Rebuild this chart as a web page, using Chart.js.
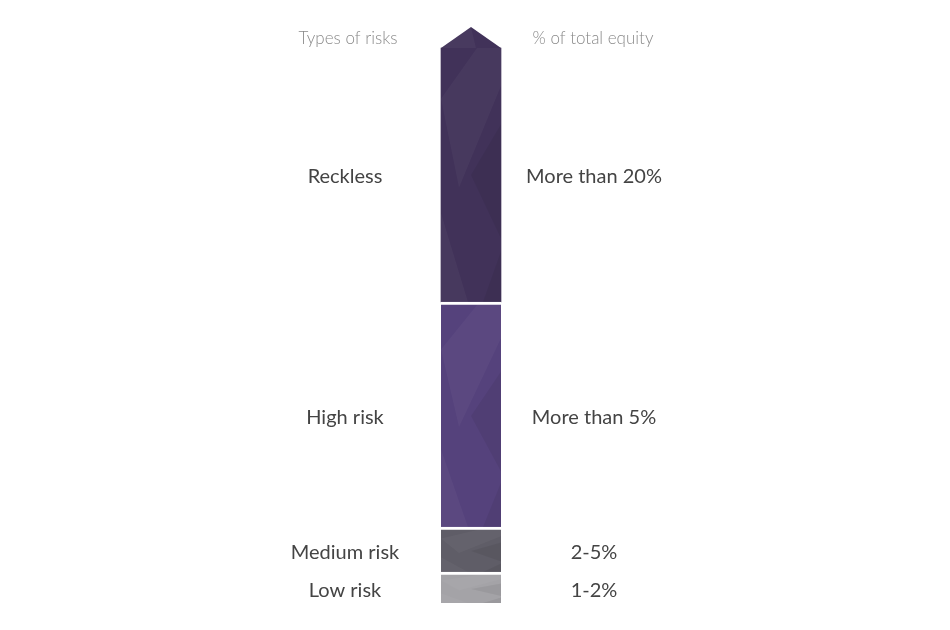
<!DOCTYPE html>
<html>
<head>
<meta charset="utf-8">
<script src="https://cdn.jsdelivr.net/npm/chart.js@4"></script>
<style>
  body { margin: 0; background: #fff; }
  #wrap { width: 950px; height: 630px; }
</style>
</head>
<body>
<div id="wrap"><canvas id="myChart" width="950" height="630"></canvas></div>
<script>
// bottom to top
var riskTypes = ['Low risk', 'Medium risk', 'High risk', 'Reckless'];
var equityLabels = ['1-2%', '2-5%', 'More than 5%', 'More than 20%'];
var segmentSizes = [31, 45, 225, 254];
var arrowSize = 21;
var colors = ['#a4a3a7', '#5f5d67', '#55427c', '#413259'];

var datasets = riskTypes.map(function (name, i) {
    return {
        label: name,
        data: [segmentSizes[i]],
        backgroundColor: colors[i],
        borderColor: '#ffffff',
        borderWidth: i < riskTypes.length - 1 ? { top: 3 } : 0,
        borderSkipped: false,
        barThickness: 60
    };
});

var total = segmentSizes.reduce(function (a, b) { return a + b; }, 0) + arrowSize;

var decor = {
    id: 'decor',
    afterDatasetsDraw: function (chart) {
        var c = chart.ctx;
        var n = chart.data.datasets.length;
        // faint triangular facets, in fractions of the segment box
        var facets = [
            [[0, 0.2], [0.6, 0.0], [1, 0.0], [1, 0.15], [0.3, 0.55]],
            [[0.5, 0.5], [1, 0.3], [1, 0.75]],
            [[0, 0.65], [0.45, 1], [0, 1]],
            [[0.7, 1], [1, 0.8], [1, 1]]
        ];
        chart.data.datasets.forEach(function (ds, i) {
            var bar = chart.getDatasetMeta(i).data[0];
            var left = bar.x - bar.width / 2, w = bar.width;
            var top = bar.y + (i < n - 1 ? 3 : 0), h = bar.base - top;
            c.save();
            c.beginPath();
            c.rect(left, top, w, h);
            c.clip();
            facets.forEach(function (f, k) {
                c.fillStyle = k % 2 ? 'rgba(0,0,0,0.06)' : 'rgba(255,255,255,0.035)';
                c.beginPath();
                f.forEach(function (p, j) {
                    var px = left + p[0] * w, py = top + p[1] * h;
                    if (j === 0) c.moveTo(px, py); else c.lineTo(px, py);
                });
                c.closePath();
                c.fill();
            });
            c.restore();

            // labels beside each segment
            var mid = (top + bar.base) / 2 + 2;
            c.save();
            c.fillStyle = '#444444';
            c.font = '20px Lato';
            c.textAlign = 'center';
            c.textBaseline = 'middle';
            c.fillText(riskTypes[i], bar.x - 126, mid);
            c.fillText(equityLabels[i], bar.x + 123, mid);
            c.restore();
        });

        // arrow head on top
        var topBar = chart.getDatasetMeta(n - 1).data[0];
        var tipY = chart.scales.y.getPixelForValue(total);
        c.save();
        c.fillStyle = colors[n - 1];
        c.beginPath();
        c.moveTo(topBar.x - topBar.width / 2, topBar.y);
        c.lineTo(topBar.x, tipY);
        c.lineTo(topBar.x + topBar.width / 2, topBar.y);
        c.closePath();
        c.fill();
        c.fillStyle = 'rgba(255,255,255,0.04)';
        c.beginPath();
        c.moveTo(topBar.x - topBar.width / 2, topBar.y);
        c.lineTo(topBar.x, tipY);
        c.lineTo(topBar.x + 5, topBar.y);
        c.closePath();
        c.fill();

        // headers
        var headY = (tipY + topBar.y) / 2 + 1;
        c.fillStyle = '#8a8a8a';
        c.font = '300 17px Lato';
        c.textAlign = 'center';
        c.textBaseline = 'middle';
        c.fillText('Types of risks', topBar.x - 123, headY);
        c.fillText('% of total equity', topBar.x + 122, headY);
        c.restore();
    }
};

var ctx = document.getElementById('myChart').getContext('2d');
var myChart = new Chart(ctx, {
    type: 'bar',
    data: {
        labels: [''],
        datasets: datasets
    },
    options: {
        responsive: false,
        animation: false,
        layout: { padding: { top: 27, bottom: 27, left: 0, right: 8 } },
        plugins: {
            legend: { display: false },
            tooltip: { enabled: false }
        },
        scales: {
            x: { display: false, stacked: true },
            y: { display: false, stacked: true, min: 0, max: total }
        }
    },
    plugins: [decor]
});
</script>
</body>
</html>
